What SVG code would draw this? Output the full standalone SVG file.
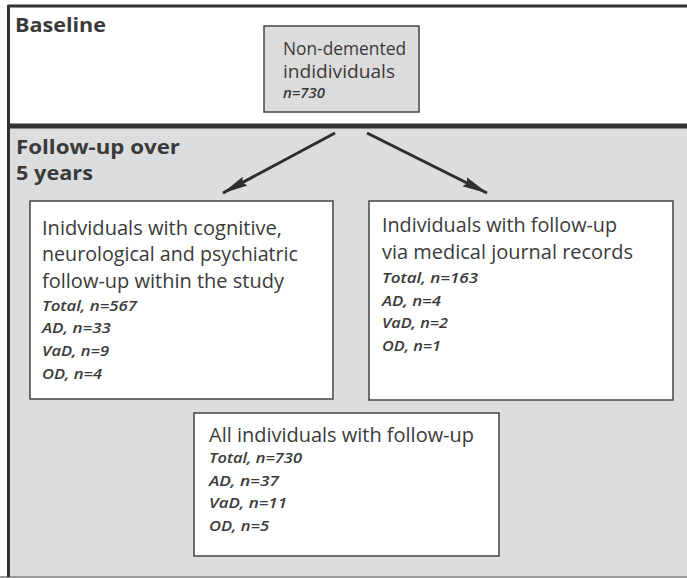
<svg xmlns="http://www.w3.org/2000/svg" width="687" height="578" viewBox="0 0 687 578">
<defs>
<style>
.t{font-family:"Open Sans","Liberation Sans",sans-serif;font-size:19.5px;fill:#3a3a3a}
.tb{font-family:"Open Sans","Liberation Sans",sans-serif;font-size:17.5px;fill:#3a3a3a}
.h{font-family:"Open Sans","Liberation Sans",sans-serif;font-size:19.5px;font-weight:bold;fill:#3a3a3a}
.s{font-family:"Open Sans","Liberation Sans",sans-serif;font-size:15px;font-style:italic;font-weight:600;fill:#3a3a3a}
.box{fill:#ffffff;stroke:#444;stroke-width:1.5}
.arrow{stroke:#2e2e2e;stroke-width:3;fill:none}
</style>
<marker id="ah" markerWidth="26" markerHeight="12" refX="25" refY="6" orient="auto" markerUnits="userSpaceOnUse" viewBox="0 0 26 12">
<path d="M0,1 L26,6 L0,11 L3,6 Z" fill="#2e2e2e"/>
</marker>
</defs>
<rect x="0" y="0" width="687" height="578" fill="#ffffff"/>
<g id="baseline-band">
<rect x="8" y="6" width="690" height="120" fill="#ffffff"/>
<line x1="8" y1="6" x2="687" y2="6" stroke="#333" stroke-width="3"/>
<text class="h" x="15" y="32" textLength="91" lengthAdjust="spacingAndGlyphs">Baseline</text>
</g>
<g id="followup-band">
<rect x="8" y="126" width="690" height="451" fill="#dcdddf"/>
<line x1="8" y1="126" x2="687" y2="126" stroke="#333" stroke-width="5"/>
<line x1="0" y1="577" x2="687" y2="577" stroke="#9a9a9a" stroke-width="2"/>
<text class="h" x="16" y="154" textLength="164" lengthAdjust="spacingAndGlyphs">Follow-up over</text>
<text class="h" x="16" y="180" textLength="77" lengthAdjust="spacingAndGlyphs">5 years</text>
</g>
<line x1="8.5" y1="5" x2="8.5" y2="577" stroke="#333" stroke-width="3"/>
<g id="node-baseline">
<rect x="264" y="26" width="155" height="86" fill="#dcdcdc" stroke="#444" stroke-width="1.5"/>
<text class="tb" x="283" y="55" textLength="123" lengthAdjust="spacingAndGlyphs">Non-demented</text>
<text class="tb" x="283" y="78" textLength="112" lengthAdjust="spacingAndGlyphs">indidividuals</text>
<text class="s" x="283" y="98" textLength="42" lengthAdjust="spacingAndGlyphs">n=730</text>
</g>
<g id="connectors">
<line class="arrow" x1="335" y1="133" x2="223" y2="193" marker-end="url(#ah)"/>
<line class="arrow" x1="367" y1="133" x2="487" y2="193" marker-end="url(#ah)"/>
</g>
<g id="node-study">
<rect class="box" x="30" y="201" width="303" height="198"/>
<text class="t" x="42" y="235" textLength="240" lengthAdjust="spacingAndGlyphs">Inidviduals with cognitive,</text>
<text class="t" x="42" y="261" textLength="256" lengthAdjust="spacingAndGlyphs">neurological and psychiatric</text>
<text class="t" x="42" y="288" textLength="242" lengthAdjust="spacingAndGlyphs">follow-up within the study</text>
<text class="s" x="42" y="311" textLength="95" lengthAdjust="spacingAndGlyphs">Total, n=567</text>
<text class="s" x="42" y="333" textLength="69" lengthAdjust="spacingAndGlyphs">AD, n=33</text>
<text class="s" x="42" y="356" textLength="67" lengthAdjust="spacingAndGlyphs">VaD, n=9</text>
<text class="s" x="42" y="379" textLength="60" lengthAdjust="spacingAndGlyphs">OD, n=4</text>
</g>
<g id="node-records">
<rect class="box" x="369" y="201" width="304" height="199"/>
<text class="t" x="382" y="232" textLength="235" lengthAdjust="spacingAndGlyphs">Individuals with follow-up</text>
<text class="t" x="382" y="259" textLength="251" lengthAdjust="spacingAndGlyphs">via medical journal records</text>
<text class="s" x="382" y="283" textLength="96" lengthAdjust="spacingAndGlyphs">Total, n=163</text>
<text class="s" x="382" y="306" textLength="59" lengthAdjust="spacingAndGlyphs">AD, n=4</text>
<text class="s" x="382" y="328" textLength="66" lengthAdjust="spacingAndGlyphs">VaD, n=2</text>
<text class="s" x="382" y="351" textLength="59" lengthAdjust="spacingAndGlyphs">OD, n=1</text>
</g>
<g id="node-all">
<rect class="box" x="194" y="413" width="305" height="143"/>
<text class="t" x="209" y="442" textLength="265" lengthAdjust="spacingAndGlyphs">All individuals with follow-up</text>
<text class="s" x="209" y="463" textLength="93" lengthAdjust="spacingAndGlyphs">Total, n=730</text>
<text class="s" x="209" y="486" textLength="70" lengthAdjust="spacingAndGlyphs">AD, n=37</text>
<text class="s" x="209" y="508" textLength="78" lengthAdjust="spacingAndGlyphs">VaD, n=11</text>
<text class="s" x="209" y="531" textLength="60" lengthAdjust="spacingAndGlyphs">OD, n=5</text>
</g>
</svg>
